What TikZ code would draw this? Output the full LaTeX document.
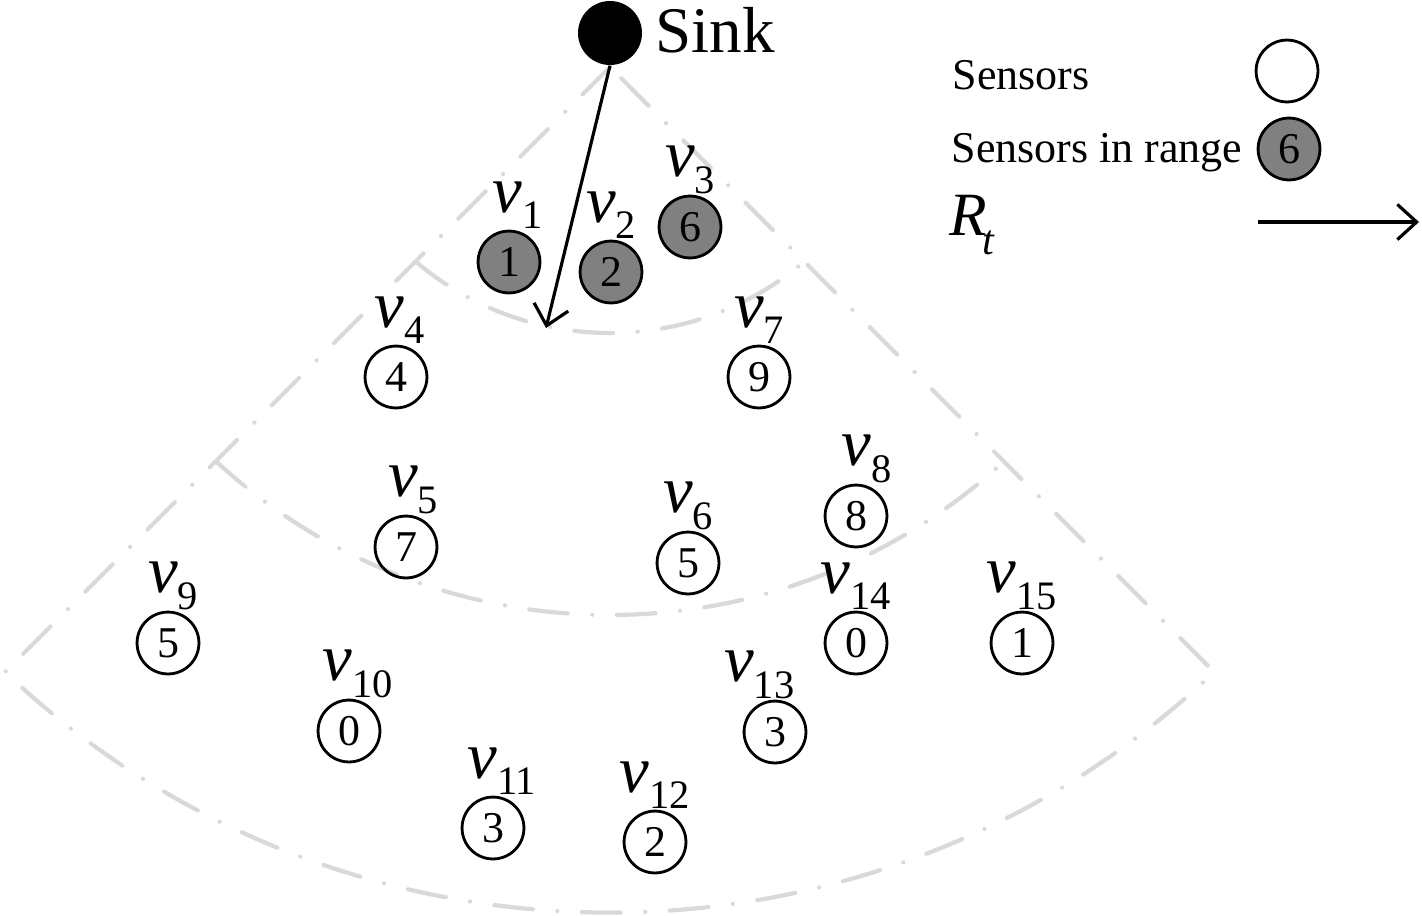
\documentclass[tikz,border=0pt]{standalone}
\usepackage{fontspec}
\setmainfont{Liberation Serif}
\usetikzlibrary{arrows.meta, positioning}

\newcommand{\vname}[1]{{\fontsize{19}{19}\selectfont\itshape v}\raisebox{-4.8pt}{\fontsize{11.5}{11.5}\selectfont #1}}

\tikzset{
  sensor/.style={draw, circle, line width=0.8pt, minimum size=17.6pt, inner sep=0pt, font=\fontsize{12.5}{12.5}\selectfont},
  inrange/.style={sensor, fill=gray},
  vlab/.style={inner sep=0pt},
  zone/.style={draw=black!15, line width=1.2pt, line cap=round, line join=round, dash pattern=on 11pt off 7pt on 0pt off 7pt},
  hop/.style={-{Straight Barb[length=5.5pt,width=10pt]}, line width=0.9pt},
  legend/.style={anchor=base west, inner sep=0pt, font=\fontsize{12.5}{12.5}\selectfont}
}

\begin{document}
\begin{tikzpicture}[x=0.01cm, y=0.01cm]
        \useasboundingbox (0,0) rectangle (1422,-915);

        % sink and its range zones
        \node (sink) [circle, fill=black, minimum size=18.2pt, inner sep=0pt] at (610,-33) {};
        \node (sinktext) [anchor=base west, inner sep=0pt, font=\fontsize{18.5}{18.5}\selectfont] at (655,-52) {Sink};
        \coordinate (apex) at (610,-67);
        \draw[zone] (apex) -- ++(225:855.6) arc[start angle=226.6, end angle=313.4, radius=880] -- cycle;
        \draw[zone] (sink.center) ++(229.6:300) arc[start angle=229.6, end angle=310.4, radius=300];
        \draw[zone] (sink.center) ++(227.4:582) arc[start angle=227.4, end angle=312.6, radius=582];

        % sensors
        \node (s1) [inrange] at (509,-262) {1};
        \node (s2) [inrange] at (611,-272) {2};
        \node (s3) [inrange] at (690,-227) {6};
        \node (s4) [sensor] at (396,-377) {4};
        \node (s5) [sensor] at (406,-547) {7};
        \node (s6) [sensor] at (688,-563) {5};
        \node (s7) [sensor] at (759,-377) {9};
        \node (s8) [sensor] at (856,-516) {8};
        \node (s9) [sensor] at (168,-643) {5};
        \node (s10) [sensor] at (349,-731) {0};
        \node (s11) [sensor] at (493,-828) {3};
        \node (s12) [sensor] at (655,-842) {2};
        \node (s13) [sensor] at (775,-732) {3};
        \node (s14) [sensor] at (856,-643) {0};
        \node (s15) [sensor] at (1022,-643) {1};

        \node (l1) [vlab, above=0pt of s1, xshift=2.5pt] {\vname{1}};
        \node (l2) [vlab, above=0pt of s2] {\vname{2}};
        \node (l3) [vlab, above=0pt of s3] {\vname{3}};
        \node (l4) [vlab, above=0pt of s4, xshift=1pt] {\vname{4}};
        \node (l5) [vlab, above=0pt of s5, xshift=2pt] {\vname{5}};
        \node (l6) [vlab, above=0pt of s6] {\vname{6}};
        \node (l7) [vlab, above=0pt of s7] {\vname{7}};
        \node (l8) [vlab, above=0pt of s8, xshift=3pt] {\vname{8}};
        \node (l9) [vlab, above=0pt of s9, xshift=1.5pt] {\vname{9}};
        \node (l10) [vlab, above=0pt of s10, xshift=2.5pt] {\vname{10}};
        \node (l11) [vlab, above=0pt of s11, xshift=2.5pt] {\vname{11}};
        \node (l12) [vlab, above=0pt of s12] {\vname{12}};
        \node (l13) [vlab, above=0pt of s13, xshift=-4.5pt] {\vname{13}};
        \node (l14) [vlab, above=0pt of s14] {\vname{14}};
        \node (l15) [vlab, above=0pt of s15] {\vname{15}};

        \coordinate (rt) at (546,-328);
        \draw[hop] (sink.south) -- (rt);

        % legend
        \node (leg1) [legend] at (952,-89) {Sensors};
        \node (leg2) [legend] at (951,-162) {Sensors in range};
        \node (leg3) [anchor=base west, inner sep=0pt] at (949,-235) {{\fontsize{17.5}{17.5}\selectfont\itshape R}\kern-1.5pt\raisebox{-5.5pt}{\fontsize{12}{12}\selectfont\itshape t}};
        \node (legs) [sensor] at (1287,-71) {};
        \node (legr) [inrange] at (1289,-149) {6};
        \coordinate (ra) at (1258,-222);
        \coordinate (rb) at (1419,-222);
        \draw[hop] (ra) -- (rb);
    \end{tikzpicture}
\end{document}
